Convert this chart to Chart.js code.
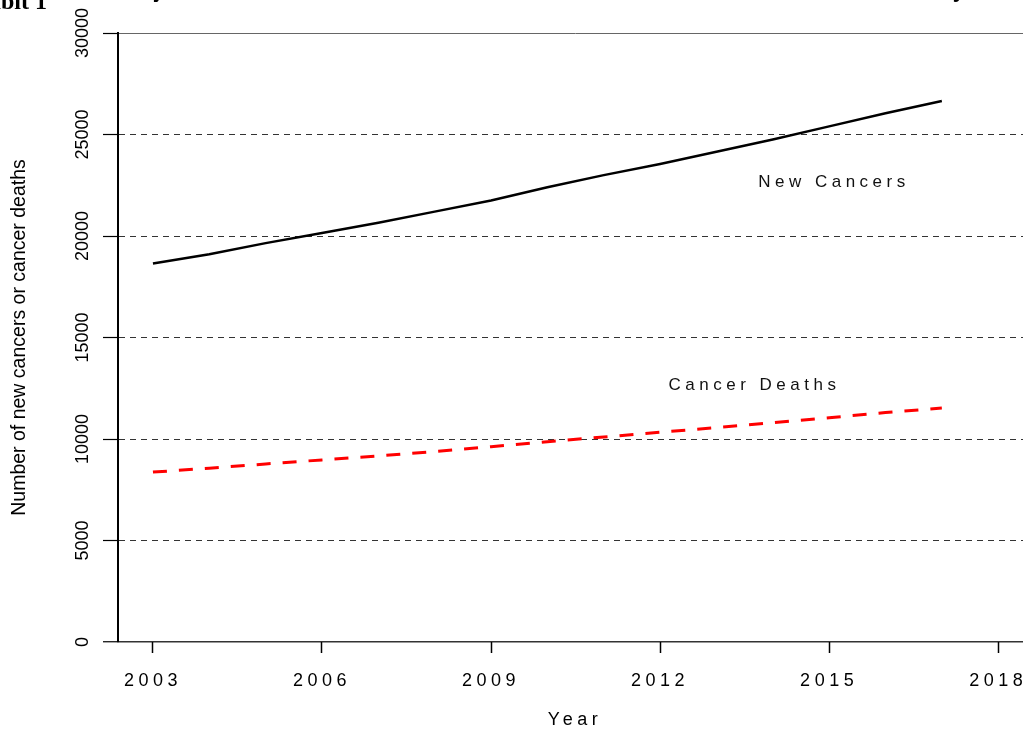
<!DOCTYPE html>
<html>
<head>
<meta charset="utf-8">
<script src="https://cdn.jsdelivr.net/npm/chart.js@4.4.0/dist/chart.umd.min.js"></script>
<style>
    html, body {
        margin: 0;
        padding: 0;
        background: #fff;
        overflow: hidden;
    }

    #frame {
        position: relative;
        width: 1023px;
        height: 731px;
        overflow: hidden;
    }

    #chartBox {
        position: absolute;
        left: 0;
        top: 0;
        width: 1040px;
        height: 731px;
    }

    #exhibit {
        position: absolute;
        left: -47px;
        top: -11px;
        font: bold 24px "Liberation Serif", "Times New Roman", serif;
        line-height: 24px;
        color: #000;
        white-space: nowrap;
    }

    #title {
        position: absolute;
        left: 102px;
        top: -21px;
        font: bold 22px "Liberation Sans", Arial, sans-serif;
        letter-spacing: 5.2px;
        line-height: 22px;
        color: #000;
        white-space: nowrap;
    }
</style>
</head>
<body>
<div id="frame">
    <div id="chartBox">
        <canvas id="cancerChart" width="1040" height="731"></canvas>
    </div>
    <div id="exhibit">Exhibit 1</div>
    <div id="title">Projected Number of New Cancers and Cancer Deaths by Year</div>
</div>

<script>
const years = [2003, 2004, 2005, 2006, 2007, 2008, 2009, 2010, 2011, 2012, 2013, 2014, 2015, 2016, 2017];

const newCancers = [18650, 19100, 19650, 20150, 20650, 21200, 21750, 22400, 23000, 23550, 24150, 24750, 25400, 26050, 26650];

const cancerDeaths = [8370, 8560, 8770, 8970, 9170, 9380, 9620, 9870, 10100, 10330, 10560, 10800, 11050, 11300, 11530];

const xTickYears = [2003, 2006, 2009, 2012, 2015, 2018];

const yTickValues = [0, 5000, 10000, 15000, 20000, 25000, 30000];

// text labels written next to each line, anchored in data units
const seriesNotes = [
    { text: 'New Cancers', year: 2015.05, value: 22650 },
    { text: 'Cancer Deaths', year: 2013.64, value: 12650 },
];

const SPACED = '4.5px';


// x labels and title are letter spaced, y ones are not
const spacingPlugin = {
    id: 'spacing',

    beforeDraw(chart) {
        chart.ctx.letterSpacing = '0px';
    },

    beforeDatasetsDraw(chart) {
        chart.ctx.letterSpacing = SPACED;
    },

    afterDraw(chart) {
        const ctx = chart.ctx;
        const x = chart.scales.x;
        const y = chart.scales.y;

        ctx.save();
        ctx.letterSpacing = SPACED;
        ctx.font = '17px "Liberation Sans", Arial, sans-serif';
        ctx.fillStyle = '#111';
        ctx.textAlign = 'center';
        ctx.textBaseline = 'middle';

        seriesNotes.forEach(note => {
            ctx.fillText(
                note.text,
                x.getPixelForValue(note.year) + 2,
                y.getPixelForValue(note.value)
            );
        });

        ctx.restore();
        ctx.letterSpacing = '0px';
    }
};


const canvas = document.getElementById('cancerChart');

new Chart(canvas, {

    type: 'line',

    data: {

        datasets: [
            {
                label: 'New Cancers',

                data: years.map((year, i) => ({ x: year, y: newCancers[i] })),

                borderColor: '#000',

                borderWidth: 2.5,

                tension: 0,

                pointRadius: 0,
            },

            {
                label: 'Cancer Deaths',

                data: years.map((year, i) => ({ x: year, y: cancerDeaths[i] })),

                borderColor: '#ff0000',

                borderWidth: 3,

                borderDash: [14, 12],

                tension: 0,

                pointRadius: 0,
            }
        ]

    },

    options: {

        responsive: false,

        animation: false,

        events: [],

        layout: {
            padding: { top: 33, right: 8, bottom: 0, left: 0 },
        },

        plugins: {

            legend: { display: false },

            tooltip: { enabled: false },

        },

        scales: {

            x: {

                type: 'linear',

                min: 2002.38,

                max: 2018.6,

                afterBuildTicks(scale) {
                    scale.ticks = xTickYears.map(v => ({ value: v }));
                },

                afterFit(scale) {
                    scale.height = 89;
                },

                grid: {
                    drawOnChartArea: false,
                    tickLength: 11,
                    tickColor: '#000',
                    tickWidth: 1.5,
                    z: 1,
                },

                border: { display: false },

                ticks: {
                    autoSkip: false,
                    maxRotation: 0,
                    padding: 17,
                    color: '#000',
                    z: 1,
                    font: { family: '"Liberation Sans", Arial, sans-serif', size: 18 },
                    callback: v => String(v),
                },

                title: {
                    display: true,
                    text: 'Year',
                    color: '#000',
                    padding: { top: 0, bottom: 0 },
                    font: { family: '"Liberation Sans", Arial, sans-serif', size: 18 },
                }

            },

            y: {

                min: 0,

                max: 30000,

                afterBuildTicks(scale) {
                    scale.ticks = yTickValues.map(v => ({ value: v }));
                },

                afterFit(scale) {
                    scale.width = 118;
                },

                grid: {
                    color: ctx => (ctx.tick && ctx.tick.value === 30000) ? '#666' : '#333',
                    lineWidth: ctx => (ctx.tick && ctx.tick.value === 0) ? 1.5 : 1,
                    tickLength: 15,
                    tickColor: '#000',
                    tickWidth: 1.2,
                    tickBorderDash: [],
                },

                border: {
                    display: true,
                    color: '#000',
                    width: 2,
                    dash: ctx => (ctx.tick && ctx.tick.value > 0 && ctx.tick.value < 30000) ? [6, 5] : [],
                },

                ticks: {
                    minRotation: 90,
                    maxRotation: 90,
                    crossAlign: 'center',
                    padding: -5,
                    color: '#000',
                    font: { family: '"Liberation Sans", Arial, sans-serif', size: 18 },
                    callback: v => String(v),
                },

                title: {
                    display: true,
                    text: 'Number of new cancers or cancer deaths',
                    color: '#000',
                    padding: { top: 8, bottom: 0 },
                    font: { family: '"Liberation Sans", Arial, sans-serif', size: 19.5 },
                }

            }

        }

    },

    plugins: [spacingPlugin],

});
</script>
</body>
</html>
